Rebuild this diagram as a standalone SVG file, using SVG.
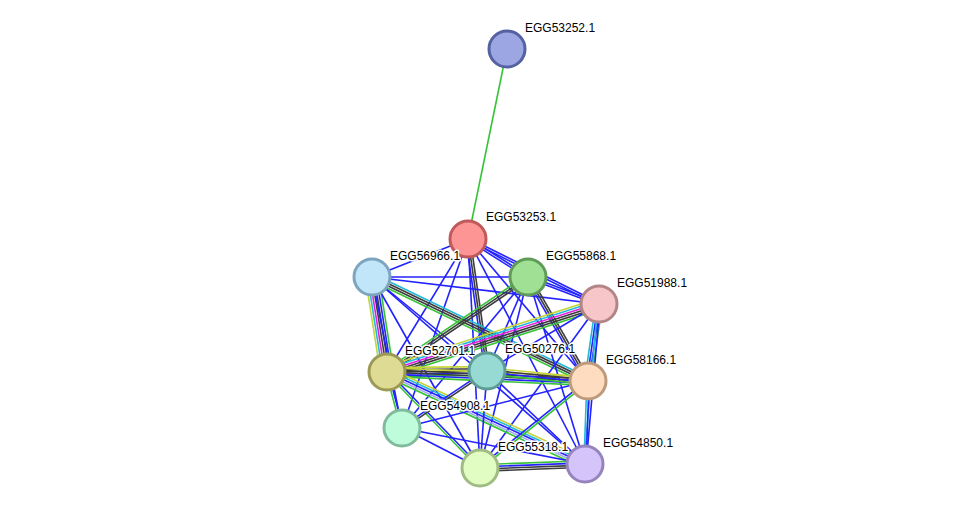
<svg xmlns="http://www.w3.org/2000/svg" width="975" height="514" viewBox="0 0 975 514">
<style>
line{stroke-width:1.6;fill:none}
.g{stroke:#37c337}.b{stroke:#2222ff}.k{stroke:#3c3c3c}.m{stroke:#e020e0}.c{stroke:#22b8d8}.y{stroke:#c4d43a}.l{stroke:#a8a8f0}
.node circle{stroke-width:3}
.node text{font-family:"Liberation Sans",Arial,sans-serif;font-size:12px;fill:#000;stroke:#fff;stroke-width:3;paint-order:stroke;stroke-linejoin:round}
</style>
<rect width="975" height="514" fill="#fff"/>
<g id="edges">
<line class="g" x1="507" y1="49" x2="468" y2="239"/>
<line class="b" x1="468" y1="239" x2="372" y2="277"/>
<g transform="translate(468,239) rotate(32.35)"><line class="b" x1="0" y1="-1.1" x2="71" y2="-1.1"/><line class="b" x1="0" y1="1.1" x2="71" y2="1.1"/></g>
<g transform="translate(468,239) rotate(26.39)"><line class="b" x1="0" y1="-1.1" x2="146.2" y2="-1.1"/><line class="b" x1="0" y1="1.1" x2="146.2" y2="1.1"/></g>
<line class="b" x1="468" y1="239" x2="387" y2="372"/>
<g transform="translate(468,239) rotate(81.81)"><line class="k" x1="0" y1="-2.2" x2="133.4" y2="-2.2"/><line class="k" x1="0" y1="0" x2="133.4" y2="0"/><line class="b" x1="0" y1="2.2" x2="133.4" y2="2.2"/></g>
<line class="b" x1="468" y1="239" x2="588" y2="381"/>
<line class="b" x1="468" y1="239" x2="402" y2="428"/>
<line class="b" x1="468" y1="239" x2="480" y2="468"/>
<line class="b" x1="468" y1="239" x2="585" y2="464"/>
<line class="b" x1="372" y1="277" x2="528" y2="277"/>
<line class="b" x1="372" y1="277" x2="599" y2="304"/>
<g transform="translate(372,277) rotate(81.03)"><line class="y" x1="0" y1="6.6" x2="96.2" y2="6.6"/><line class="c" x1="0" y1="4.4" x2="96.2" y2="4.4"/><line class="m" x1="0" y1="2.2" x2="96.2" y2="2.2"/><line class="k" x1="0" y1="0" x2="96.2" y2="0"/><line class="k" x1="0" y1="-2.2" x2="96.2" y2="-2.2"/><line class="b" x1="0" y1="-4.4" x2="96.2" y2="-4.4"/><line class="g" x1="0" y1="-6.6" x2="96.2" y2="-6.6"/></g>
<line class="b" x1="372" y1="277" x2="487" y2="371"/>
<g transform="translate(372,277) rotate(25.71)"><line class="c" x1="0" y1="-3.3" x2="239.7" y2="-3.3"/><line class="k" x1="0" y1="-1.1" x2="239.7" y2="-1.1"/><line class="k" x1="0" y1="1.1" x2="239.7" y2="1.1"/><line class="g" x1="0" y1="3.3" x2="239.7" y2="3.3"/></g>
<line class="b" x1="372" y1="277" x2="402" y2="428"/>
<line class="b" x1="372" y1="277" x2="480" y2="468"/>
<line class="b" x1="372" y1="277" x2="585" y2="464"/>
<g transform="translate(528,277) rotate(20.82)"><line class="b" x1="0" y1="-1.1" x2="76" y2="-1.1"/><line class="b" x1="0" y1="1.1" x2="76" y2="1.1"/></g>
<g transform="translate(528,277) rotate(146.03)"><line class="k" x1="0" y1="-2.2" x2="170" y2="-2.2"/><line class="k" x1="0" y1="0" x2="170" y2="0"/><line class="g" x1="0" y1="2.2" x2="170" y2="2.2"/></g>
<line class="b" x1="528" y1="277" x2="487" y2="371"/>
<g transform="translate(528,277) rotate(60.02)"><line class="k" x1="0" y1="-2.2" x2="120.1" y2="-2.2"/><line class="k" x1="0" y1="0" x2="120.1" y2="0"/><line class="b" x1="0" y1="2.2" x2="120.1" y2="2.2"/></g>
<line class="b" x1="528" y1="277" x2="402" y2="428"/>
<line class="b" x1="528" y1="277" x2="480" y2="468"/>
<line class="b" x1="528" y1="277" x2="585" y2="464"/>
<g transform="translate(599,304) rotate(162.22)"><line class="g" x1="0" y1="-5.5" x2="222.6" y2="-5.5"/><line class="k" x1="0" y1="-3.3" x2="222.6" y2="-3.3"/><line class="k" x1="0" y1="-1.1" x2="222.6" y2="-1.1"/><line class="m" x1="0" y1="1.1" x2="222.6" y2="1.1"/><line class="c" x1="0" y1="3.3" x2="222.6" y2="3.3"/><line class="y" x1="0" y1="5.5" x2="222.6" y2="5.5"/></g>
<line class="b" x1="599" y1="304" x2="487" y2="371"/>
<g transform="translate(599,304) rotate(98.13)"><line class="g" x1="0" y1="-3.3" x2="77.8" y2="-3.3"/><line class="b" x1="0" y1="-1.1" x2="77.8" y2="-1.1"/><line class="b" x1="0" y1="1.1" x2="77.8" y2="1.1"/><line class="c" x1="0" y1="3.3" x2="77.8" y2="3.3"/></g>
<line class="b" x1="599" y1="304" x2="480" y2="468"/>
<g transform="translate(599,304) rotate(95)"><line class="b" x1="0" y1="-1.1" x2="160.6" y2="-1.1"/><line class="c" x1="0" y1="1.1" x2="160.6" y2="1.1"/></g>
<g transform="translate(387,372) rotate(-0.57)"><line class="y" x1="0" y1="-4.4" x2="100" y2="-4.4"/><line class="k" x1="0" y1="-2.2" x2="100" y2="-2.2"/><line class="k" x1="0" y1="0" x2="100" y2="0"/><line class="b" x1="0" y1="2.2" x2="100" y2="2.2"/><line class="g" x1="0" y1="4.4" x2="100" y2="4.4"/></g>
<g transform="translate(387,372) rotate(2.56)"><line class="y" x1="0" y1="-4.4" x2="201.2" y2="-4.4"/><line class="k" x1="0" y1="-2.2" x2="201.2" y2="-2.2"/><line class="k" x1="0" y1="0" x2="201.2" y2="0"/><line class="b" x1="0" y1="2.2" x2="201.2" y2="2.2"/><line class="g" x1="0" y1="4.4" x2="201.2" y2="4.4"/></g>
<g transform="translate(387,372) rotate(74.99)"><line class="b" x1="0" y1="-1.1" x2="58" y2="-1.1"/><line class="g" x1="0" y1="1.1" x2="58" y2="1.1"/></g>
<g transform="translate(387,372) rotate(45.9)"><line class="b" x1="0" y1="-1.1" x2="133.7" y2="-1.1"/><line class="g" x1="0" y1="1.1" x2="133.7" y2="1.1"/></g>
<g transform="translate(387,372) rotate(24.92)"><line class="y" x1="0" y1="-4.4" x2="218.3" y2="-4.4"/><line class="c" x1="0" y1="-2.2" x2="218.3" y2="-2.2"/><line class="b" x1="0" y1="0" x2="218.3" y2="0"/><line class="l" x1="0" y1="2.2" x2="218.3" y2="2.2"/><line class="g" x1="0" y1="4.4" x2="218.3" y2="4.4"/></g>
<g transform="translate(487,371) rotate(5.65)"><line class="y" x1="0" y1="-3.3" x2="101.5" y2="-3.3"/><line class="k" x1="0" y1="-1.1" x2="101.5" y2="-1.1"/><line class="b" x1="0" y1="1.1" x2="101.5" y2="1.1"/><line class="g" x1="0" y1="3.3" x2="101.5" y2="3.3"/></g>
<g transform="translate(487,371) rotate(146.15)"><line class="k" x1="0" y1="-1.1" x2="102.3" y2="-1.1"/><line class="b" x1="0" y1="1.1" x2="102.3" y2="1.1"/></g>
<line class="b" x1="487" y1="371" x2="480" y2="468"/>
<line class="b" x1="487" y1="371" x2="585" y2="464"/>
<line class="b" x1="588" y1="381" x2="402" y2="428"/>
<g transform="translate(588,381) rotate(141.14)"><line class="g" x1="0" y1="-1.1" x2="138.7" y2="-1.1"/><line class="b" x1="0" y1="1.1" x2="138.7" y2="1.1"/></g>
<g transform="translate(588,381) rotate(92.07)"><line class="b" x1="0" y1="-1.1" x2="83.1" y2="-1.1"/><line class="c" x1="0" y1="1.1" x2="83.1" y2="1.1"/></g>
<line class="b" x1="402" y1="428" x2="480" y2="468"/>
<line class="b" x1="402" y1="428" x2="585" y2="464"/>
<g transform="translate(480,468) rotate(-2.18)"><line class="g" x1="0" y1="-3.3" x2="105.1" y2="-3.3"/><line class="b" x1="0" y1="-1.1" x2="105.1" y2="-1.1"/><line class="k" x1="0" y1="1.1" x2="105.1" y2="1.1"/><line class="k" x1="0" y1="3.3" x2="105.1" y2="3.3"/></g>
</g>
<g id="EGG53252.1" class="node"><circle cx="507" cy="49" r="18" fill="#9ba6e3" stroke="#5561a0"/><text x="525" y="32">EGG53252.1</text></g>
<g id="EGG53253.1" class="node"><circle cx="468" cy="239" r="18" fill="#fd9595" stroke="#c05a5a"/><text x="486" y="221">EGG53253.1</text></g>
<g id="EGG56966.1" class="node"><circle cx="372" cy="277" r="18" fill="#c1e6fa" stroke="#7ea5be"/><text x="390" y="260">EGG56966.1</text></g>
<g id="EGG55868.1" class="node"><circle cx="528" cy="277" r="18" fill="#9fe094" stroke="#5f9c57"/><text x="546" y="260">EGG55868.1</text></g>
<g id="EGG51988.1" class="node"><circle cx="599" cy="304" r="18" fill="#f6c6c8" stroke="#b48587"/><text x="617" y="287">EGG51988.1</text></g>
<g id="EGG52701.1" class="node"><circle cx="387" cy="372" r="18" fill="#dedb95" stroke="#9c9955"/><text x="405" y="355">EGG52701.1</text></g>
<g id="EGG50276.1" class="node"><circle cx="487" cy="371" r="18" fill="#97dad4" stroke="#5c9c95"/><text x="505" y="353">EGG50276.1</text></g>
<g id="EGG58166.1" class="node"><circle cx="588" cy="381" r="18" fill="#fddcc0" stroke="#bd9a7c"/><text x="606" y="364">EGG58166.1</text></g>
<g id="EGG54908.1" class="node"><circle cx="402" cy="428" r="18" fill="#befcdc" stroke="#80bc9c"/><text x="420" y="410">EGG54908.1</text></g>
<g id="EGG55318.1" class="node"><circle cx="480" cy="468" r="18" fill="#e1fdc1" stroke="#a1bc83"/><text x="498" y="451">EGG55318.1</text></g>
<g id="EGG54850.1" class="node"><circle cx="585" cy="464" r="18" fill="#d4c4fa" stroke="#9584bd"/><text x="603" y="447">EGG54850.1</text></g>
</svg>
